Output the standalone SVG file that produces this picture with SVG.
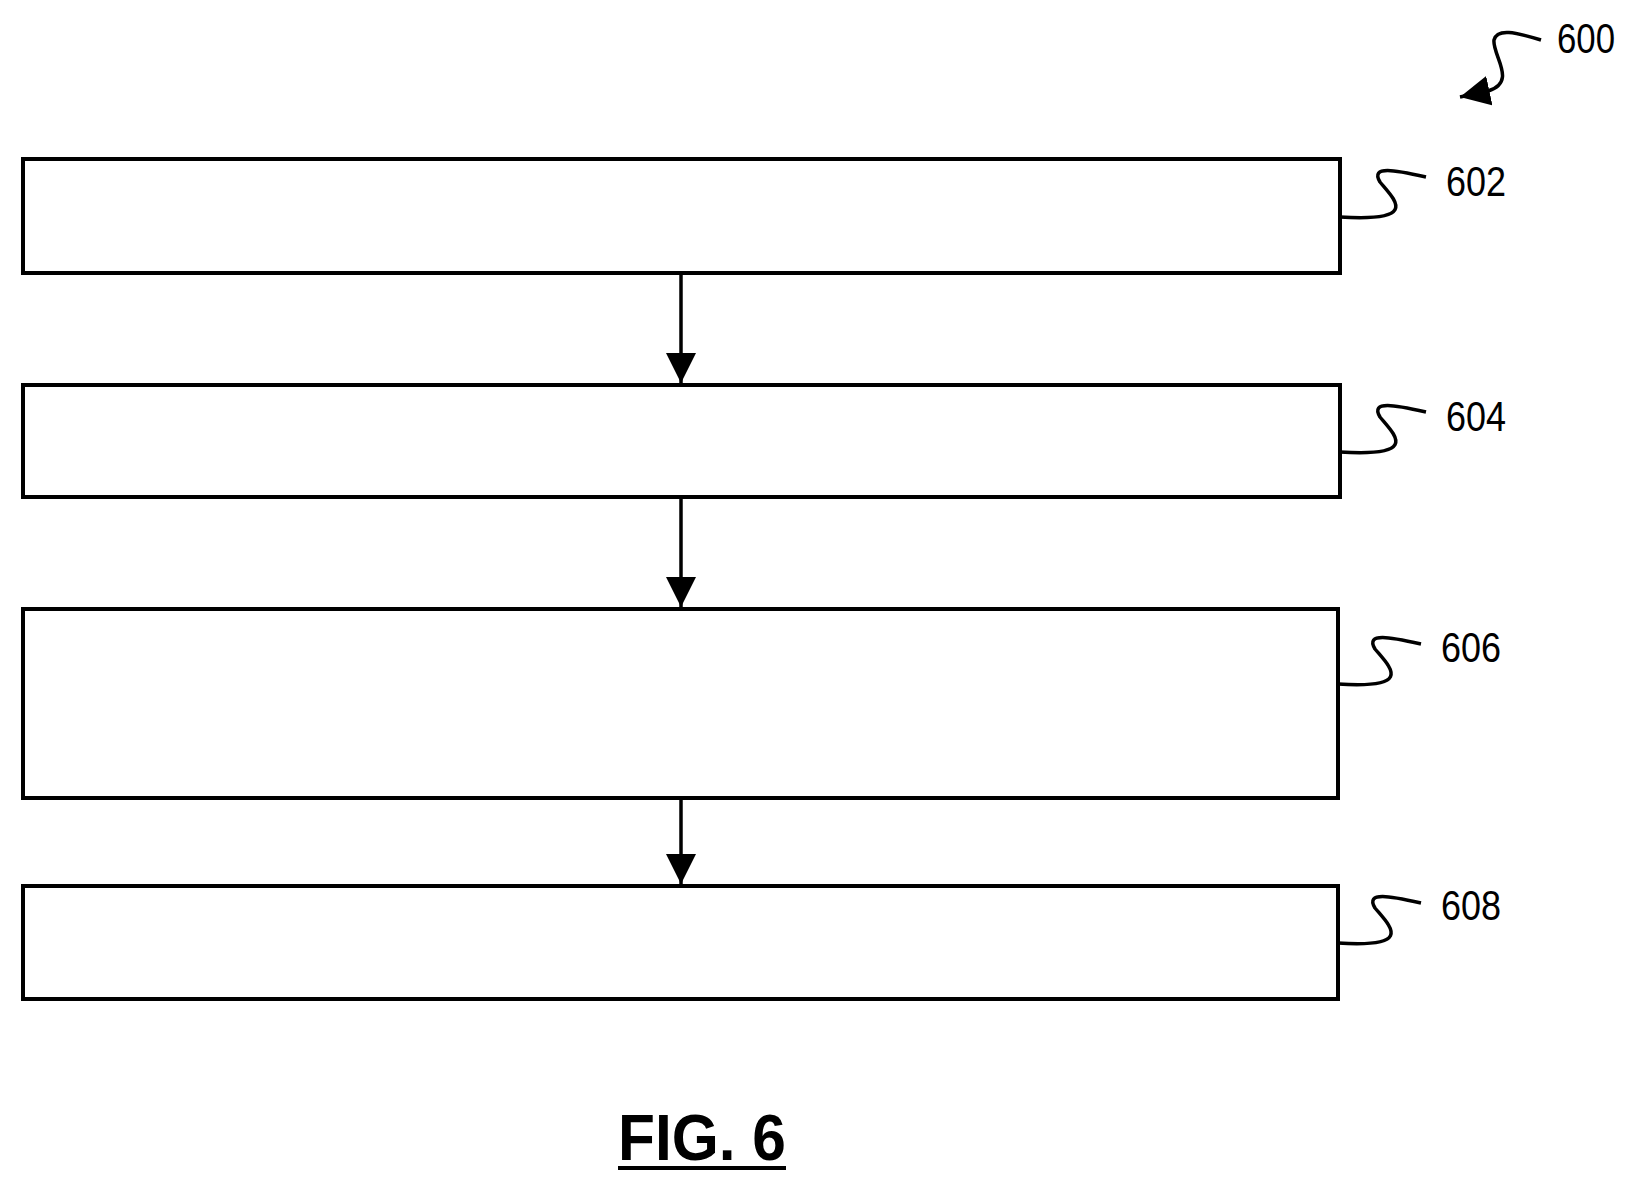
<svg xmlns="http://www.w3.org/2000/svg" width="1637" height="1192" viewBox="0 0 1637 1192">
<style>
.box{fill:#fff;stroke:#000;stroke-width:4}
.ln{fill:none;stroke:#000;stroke-width:3.5}
.lbl{font-family:"Liberation Sans",Arial,sans-serif;font-size:42px;fill:#000}
</style>
<defs>
<marker id="a2" viewBox="0 0 10 10" refX="10" refY="5" markerWidth="30" markerHeight="30" markerUnits="userSpaceOnUse" orient="auto"><path d="M0,0 L10,5 L0,10 z" fill="#000"/></marker></defs>
<rect width="1637" height="1192" fill="#fff"/>
<g id="n602"><rect class="box" x="23" y="159" width="1317" height="114"/><path class="ln" d="M1340,217 C1420,222 1395,200 1380,182 C1370,165 1395,170 1426,177"/><text class="lbl" x="1446" y="196" textLength="60" lengthAdjust="spacingAndGlyphs">602</text></g>
<g id="n604"><rect class="box" x="23" y="385" width="1317" height="112"/><path class="ln" d="M1340,452 C1420,457 1395,435 1380,417 C1370,400 1395,405 1426,412"/><text class="lbl" x="1446" y="431" textLength="60" lengthAdjust="spacingAndGlyphs">604</text></g>
<g id="n606"><rect class="box" x="23" y="609" width="1315" height="189"/><path class="ln" d="M1338,684 C1415,689 1390,667 1375,649 C1365,632 1390,637 1421,644"/><text class="lbl" x="1441" y="662" textLength="60" lengthAdjust="spacingAndGlyphs">606</text></g>
<g id="n608"><rect class="box" x="23" y="886" width="1315" height="113"/><path class="ln" d="M1338,943 C1415,948 1390,926 1375,908 C1365,891 1390,896 1421,903"/><text class="lbl" x="1441" y="920" textLength="60" lengthAdjust="spacingAndGlyphs">608</text></g>
<g id="n600"><path class="ln" d="M1541,40 C1515,32 1497,28 1494,40 C1492,55 1518,82 1488,91 L1460,97" marker-end="url(#a2)"/><text class="lbl" x="1557" y="53" textLength="58" lengthAdjust="spacingAndGlyphs">600</text></g>
<g id="connectors">
<line class="ln" x1="681" y1="273" x2="681" y2="383" marker-end="url(#a2)"/>
<line class="ln" x1="681" y1="497" x2="681" y2="607" marker-end="url(#a2)"/>
<line class="ln" x1="681" y1="798" x2="681" y2="884" marker-end="url(#a2)"/>
</g>
<g id="caption"><text x="702" y="1160" text-anchor="middle" font-family="'Liberation Sans',Arial,sans-serif" font-weight="bold" font-size="64" textLength="168" lengthAdjust="spacingAndGlyphs">FIG. 6</text><line x1="618" y1="1168" x2="786" y2="1168" stroke="#000" stroke-width="4"/></g>
</svg>
